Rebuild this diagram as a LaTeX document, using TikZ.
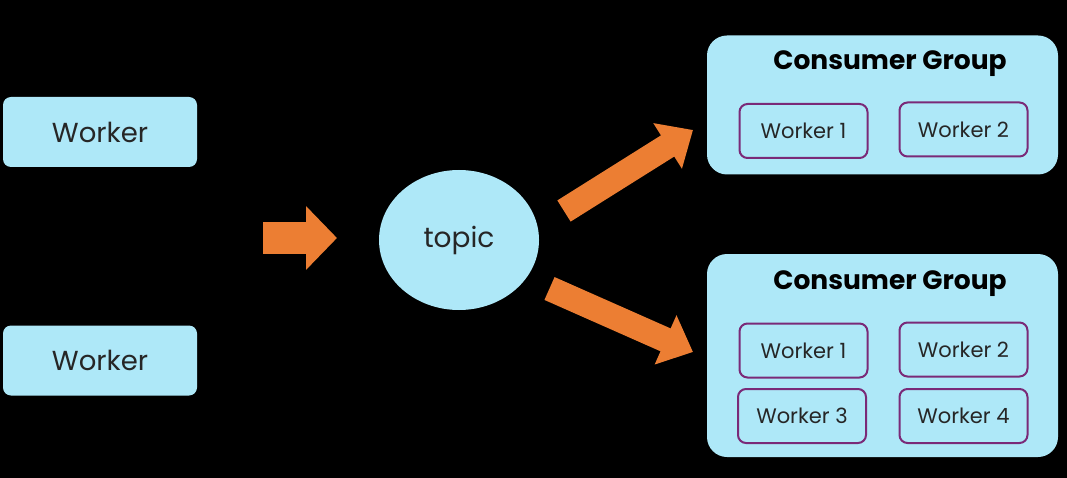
\documentclass[tikz,border=0pt]{standalone}
\usepackage{fontspec}
\setmainfont{Poppins}
\usetikzlibrary{arrows.meta,shapes.geometric}
\definecolor{cyanbox}{HTML}{AEE8F8}
\definecolor{orangeA}{HTML}{EC7E33}
\definecolor{purpleB}{HTML}{7A2A78}
\tikzset{
  workerbox/.style={fill=cyanbox, rounded corners=8pt, minimum width=194pt, minimum height=70pt, font=\fontsize{27.5}{30}\selectfont, text=black!85},
  groupbox/.style={fill=cyanbox, rounded corners=20pt, minimum width=351pt, text=black},
  smallbox/.style={fill=cyanbox, draw=purpleB, line width=2pt, rounded corners=8pt, minimum width=128pt, minimum height=54pt, font=\fontsize{21}{24}\selectfont, text=black!85},
  grouptitle/.style={font=\bfseries\fontsize{26.5}{30}\selectfont, text=black},
  fatarrow/.style={draw=orangeA, line width=#1, -{Triangle[width=52pt,length=30pt]}},
}
\begin{document}
\begin{tikzpicture}[x=1pt,y=-1pt]
\fill[black] (0,0) rectangle (1067,478);
\useasboundingbox (0,0) rectangle (1067,478);

\node[workerbox] (w1) at (100,132) {Worker};
\node[workerbox] (w2) at (100,360.5) {Worker};

\node[ellipse, fill=cyanbox, minimum width=160pt, minimum height=140pt, font=\fontsize{28}{31}\selectfont, text=black!85] (topic) at (459,240) {topic};

% group 1
\node[groupbox, minimum height=139pt] (g1) at (882.5,105) {};
\node[grouptitle] (g1t) at (890,64) {Consumer Group};
\node[smallbox] (g1w1) at (803.5,131) {Worker 1};
\node[smallbox] (g1w2) at (963.5,129.5) {Worker 2};

% group 2
\node[groupbox, minimum height=203pt] (g2) at (882.5,355.5) {};
\node[grouptitle] (g2t) at (890,284) {Consumer Group};
\node[smallbox] (g2w1) at (803.5,350.5) {Worker 1};
\node[smallbox] (g2w2) at (963.5,349.5) {Worker 2};
\node[smallbox] (g2w3) at (802,416) {Worker 3};
\node[smallbox] (g2w4) at (963.5,416) {Worker 4};

% arrows
\coordinate (a0s) at (263,238);
\coordinate (a0e) at (337,238);
\draw[draw=orangeA, line width=32pt, -{Triangle[width=62pt,length=31pt]}] (a0s) -- (a0e);

\coordinate (a1s) at (564,211);
\coordinate (a1e) at (693,130);
\draw[fatarrow=25pt] (a1s) -- (a1e);

\coordinate (a2s) at (549.5,288.5);
\coordinate (a2e) at (693,352);
\draw[fatarrow=25pt] (a2s) -- (a2e);
\end{tikzpicture}
\end{document}
